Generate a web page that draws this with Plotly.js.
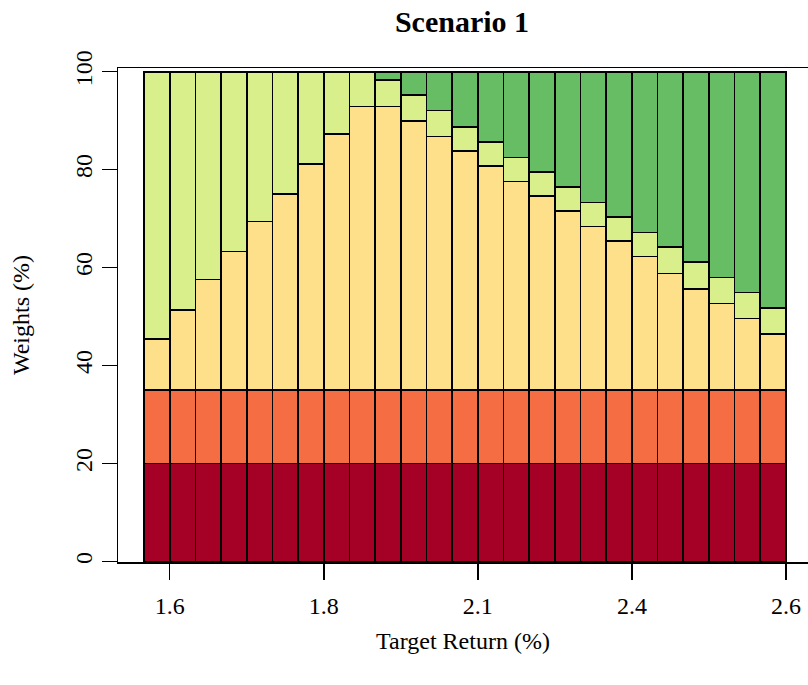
<!DOCTYPE html>
<html>
<head>
<meta charset="utf-8">
<script src="https://cdn.plot.ly/plotly-3.0.1.min.js"></script>
<style>
  html, body { margin: 0; padding: 0; background: #ffffff; overflow: hidden; }
  #chart { width: 808px; height: 685px; }
</style>
</head>
<body>
<div id="chart"></div>
<script>
// Bar index (one bar per target-return level)
const barIndex = [0,1,2,3,4,5,6,7,8,9,10,11,12,13,14,15,16,17,18,19,20,21,22,23,24];

// Tick labels for the target-return axis
const tickPositions = [0.5, 6.5, 12.5, 18.5, 24.5];
const tickLabels = ["1.6", "1.8", "2.1", "2.4", "2.6"];

// Portfolio weights (%) per asset
const asset1 = [20,20,20,20,20,20,20,20,20,20,20,20,20,20,20,20,20,20,20,20,20,20,20,20,20];
const asset2 = [15,15,15,15,15,15,15,15,15,15,15,15,15,15,15,15,15,15,15,15,15,15,15,15,15];
const asset3 = [10.4,16.4,22.6,28.3,34.4,40.0,46.1,52.3,57.9,57.9,54.9,51.8,48.8,45.7,42.6,39.6,36.5,33.4,30.4,27.3,23.8,20.7,17.7,14.6,11.5];
const asset4 = [54.6,48.6,42.4,36.7,30.6,25.0,18.9,12.7,7.1,5.4,5.3,5.3,4.9,4.9,4.9,4.9,4.9,4.9,4.9,4.9,5.4,5.4,5.3,5.3,5.3];
const asset5 = [0,0,0,0,0,0,0,0,0,1.7,4.8,7.9,11.3,14.4,17.5,20.5,23.6,26.7,29.7,32.8,35.8,38.9,42.0,45.1,48.2];

const series = [asset1, asset2, asset3, asset4, asset5];
const colors = ["#A50026", "#F46D43", "#FEE08B", "#D9EF8B", "#66BD63"];
const names = ["Asset 1", "Asset 2", "Asset 3", "Asset 4", "Asset 5"];

const traces = series.map((vals, i) => ({
  type: "bar",
  x: barIndex,
  y: vals,
  name: names[i],
  width: 1,
  marker: { color: colors[i], line: { color: "#000000", width: 1.7 } },
  hoverinfo: "y"
}));

const font = "Liberation Serif, Times New Roman, serif";

const layout = {
  width: 808,
  height: 685,
  margin: { l: 118, r: 0, t: 68, b: 123, pad: 0 },
  paper_bgcolor: "#ffffff",
  plot_bgcolor: "#ffffff",
  barmode: "stack",
  bargap: 0,
  showlegend: false,
  font: { family: font, color: "#000000", size: 24 },
  title: {
    text: "<b>Scenario 1</b>",
    font: { family: font, size: 30, color: "#000000" },
    x: 462 / 808, xref: "container", xanchor: "center",
    y: 1 - 21 / 685, yref: "container", yanchor: "middle"
  },
  xaxis: {
    range: [-1.512, 25.357],
    tickmode: "array",
    tickvals: tickPositions,
    ticktext: tickLabels,
    ticks: "outside",
    ticklen: 16,
    tickwidth: 1.5,
    tickcolor: "#000000",
    showline: true,
    linecolor: "#000000",
    linewidth: 1.5,
    mirror: true,
    showgrid: false,
    zeroline: false,
    tickfont: { family: font, size: 24 },
    ticklabelstandoff: 6,
    title: { text: "Target Return (%)", font: { family: font, size: 24 }, standoff: 14 }
  },
  yaxis: {
    range: [-0.1, 100.76],
    tickmode: "array",
    tickvals: [0, 20, 40, 60, 80, 100],
    ticktext: ["0", "20", "40", "60", "80", "100"],
    ticks: "outside",
    ticklen: 15,
    tickwidth: 1.5,
    tickcolor: "#000000",
    tickangle: -90,
    showline: true,
    linecolor: "#000000",
    linewidth: 1.5,
    mirror: true,
    showgrid: false,
    zeroline: false,
    tickfont: { family: font, size: 24 },
    title: { text: "Weights (%)", font: { family: font, size: 24 }, standoff: 34 }
  }
};

Plotly.newPlot("chart", traces, layout, { displayModeBar: false, staticPlot: true });
</script>
</body>
</html>
